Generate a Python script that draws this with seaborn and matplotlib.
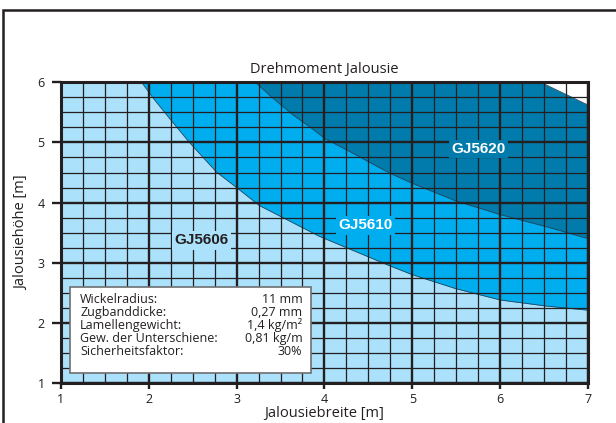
import numpy as np
import pandas as pd
import seaborn as sns
import matplotlib.pyplot as plt
from matplotlib.patches import Rectangle

# boundary curves (Jalousiebreite [m] -> Jalousiehöhe [m])
gj5606_x = [1.92, 2.05, 2.26, 2.47, 2.77, 3.0, 3.26, 3.94, 4.25, 4.74, 5.0, 5.49, 6.0, 6.52, 7.0]
gj5606_y = [6.0, 5.74, 5.36, 4.99, 4.51, 4.25, 3.95, 3.44, 3.25, 2.95, 2.80, 2.57, 2.38, 2.28, 2.21]
gj5610_x = [3.215, 3.41, 3.64, 3.85, 4.01, 4.26, 4.74, 5.0, 5.49, 6.0, 6.52, 7.0]
gj5610_y = [6.0, 5.74, 5.46, 5.24, 5.06, 4.87, 4.49, 4.32, 4.03, 3.80, 3.60, 3.40]
gj5620_x = [6.46, 7.0]
gj5620_y = [6.0, 5.62]

region_names = ["GJ5606", "GJ5610", "GJ5620"]
region_label_x = [2.6, 4.47, 5.75]
region_label_y = [3.37, 3.62, 4.89]

info_labels = ["Wickelradius:", "Zugbanddicke:", "Lamellengewicht:",
               "Gew. der Unterschiene:", "Sicherheitsfaktor:"]
info_values = ["11 mm", "0,27 mm", "1,4 kg/m²", "0,81 kg/m", "30%"]

light = "#abe1fa"
mid = "#00adee"
dark = "#007bab"
ink = "#231f20"

sns.set_style("ticks")
plt.rcParams["font.family"] = ["Open Sans", "DejaVu Sans"]

fig = plt.figure(figsize=(6.16, 4.23), dpi=100)
ax = fig.add_axes([0.0985, 0.0946, 0.8565, 0.7108])
ax.set_facecolor(light)

top = 6.0
ax.fill_between(gj5606_x, gj5606_y, top, color=mid, lw=0, zorder=1)
ax.fill_between(gj5610_x, gj5610_y, top, color=dark, lw=0, zorder=1)
ax.fill_between(gj5620_x, gj5620_y, top, color="white", lw=0, zorder=1)

df = pd.concat([
    pd.DataFrame({"x": gj5606_x, "y": gj5606_y, "k": "a"}),
    pd.DataFrame({"x": gj5610_x, "y": gj5610_y, "k": "b"}),
    pd.DataFrame({"x": gj5620_x, "y": gj5620_y, "k": "c"}),
])
sns.lineplot(data=df, x="x", y="y", units="k", estimator=None, sort=False,
             color="#24465a", lw=0.6, ax=ax, zorder=2)

ax.set_xlim(1, 7)
ax.set_ylim(1, 6)
ax.set_xticks(range(1, 8))
ax.set_yticks(range(1, 7))
ax.set_xticks(np.arange(1, 7.01, 0.25), minor=True)
ax.set_yticks(np.arange(1, 6.01, 0.25), minor=True)
ax.grid(which="major", color=ink, lw=1.7)
ax.grid(which="minor", color=ink, lw=0.9)
ax.set_axisbelow(False)
for s in ax.spines.values():
    s.set_color(ink)
    s.set_linewidth(2.2)
    s.set_zorder(5)
ax.tick_params(which="major", width=1.7, color=ink, labelsize=9, labelcolor=ink)
ax.tick_params(axis="y", which="major", direction="out", length=6.5, pad=5)
ax.tick_params(axis="x", which="major", direction="out", length=4, pad=3)
ax.tick_params(which="minor", length=0)

ax.set_xlabel("Jalousiebreite [m]", fontsize=10.5, color=ink, labelpad=0)
ax.set_ylabel("Jalousiehöhe [m]", fontsize=10.5, color=ink, labelpad=6)
ax.set_title("Drehmoment Jalousie", fontsize=10.5, color=ink, pad=7)

text_cols = [ink, "white", "white"]
box_cols = [light, mid, dark]
for name, lx, ly, tc, bc in zip(region_names, region_label_x, region_label_y, text_cols, box_cols):
    ax.text(lx, ly, name, ha="center", va="center", fontsize=11, fontweight="bold",
            family=["Liberation Sans", "DejaVu Sans"], color=tc, zorder=6,
            bbox=dict(boxstyle="square,pad=0.15", fc=bc, ec="none"))

# info box
ax.add_patch(Rectangle((1.106, 1.162), 2.744, 1.438, fc="white", ec="#6d6e71",
                       lw=1.2, zorder=6))
row_y = [2.39, 2.175, 1.96, 1.745, 1.53]
for lab, val, ry in zip(info_labels, info_values, row_y):
    ax.text(1.22, ry, lab, ha="left", va="center", fontsize=9, color=ink, zorder=7)
    ax.text(3.75, ry, val, ha="right", va="center", fontsize=9, color=ink, zorder=7)

# outer frame
fig.patches.append(Rectangle((2.8 / 616, -0.05), 1.2, 1 - 10.5 / 423 + 0.05,
                             transform=fig.transFigure, fill=False, ec=ink, lw=1.8))

fig.savefig("out.png", dpi=100)
